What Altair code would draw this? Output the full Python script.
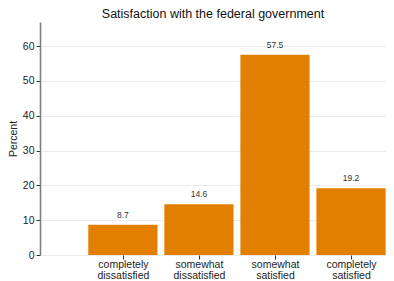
import altair as alt
import pandas as pd

categories = ["completely dissatisfied", "somewhat dissatisfied", "somewhat satisfied", "completely satisfied"]
label_lines = [["completely", "dissatisfied"], ["somewhat", "dissatisfied"], ["somewhat", "satisfied"], ["completely", "satisfied"]]
values = [8.7, 14.6, 57.5, 19.2]
positions = [1, 2, 3, 4]

df = pd.DataFrame({"category": categories, "value": values, "pos": positions})

label_expr = " : ".join(
    [f"datum.value == {p} ? {l!r}" for p, l in zip(positions, label_lines)]
) + " : ''"

FONT = "Liberation Sans"
xscale = alt.Scale(domain=[-0.09, 4.46], nice=False, zero=False)
yscale = alt.Scale(domain=[0, 66.9], nice=False)
xaxis = alt.Axis(values=positions, labelExpr=label_expr, title=None, grid=False,
                 domain=False, tickColor="#333333", tickSize=4, labelFont=FONT,
                 labelFontSize=10.5, labelColor="#222222", labelPadding=0,
                 labelLineHeight=11, labelBaseline="top", labelOverlap=False)
yaxis = alt.Axis(values=[0, 10, 20, 30, 40, 50, 60], title="Percent", grid=True,
                 gridColor="#ebebeb", domainColor="#7f7f7f", domainWidth=1.6,
                 tickColor="#333333", tickSize=4, labelFont=FONT, labelFontSize=10.5,
                 labelColor="#222222", titleFont=FONT, titleFontSize=10.5,
                 titleFontWeight="normal", titleColor="#222222", titlePadding=4,
                 labelPadding=2, labelOverlap=False)

base = alt.Chart(df).transform_calculate(
    x1="datum.pos - 0.455", x2="datum.pos + 0.455"
)

bars = base.mark_bar(color="#e37f00").encode(
    x=alt.X("x1:Q", scale=xscale, axis=xaxis),
    x2="x2:Q",
    y=alt.Y("value:Q", scale=yscale, axis=yaxis),
    y2=alt.datum(0),
)

text = base.mark_text(dy=-5, fontSize=8.5, font=FONT, color="#333333", baseline="bottom").encode(
    x=alt.X("pos:Q", scale=xscale, axis=xaxis),
    y=alt.Y("value:Q", scale=yscale, axis=yaxis),
    text=alt.Text("value:Q", format=".1f"),
)

chart = alt.layer(bars, text).properties(
    width=346, height=233,
    title=alt.TitleParams("Satisfaction with the federal government", font=FONT, fontSize=12.5,
                          fontWeight="normal", color="#111111", offset=2, anchor="middle"),
    autosize=alt.AutoSizeParams(type="none"),
    padding={"left": 32, "top": 14, "right": 0, "bottom": 26},
).configure_view(stroke=None)

chart.save("out.html", embed_options={"renderer": "svg", "actions": False})
